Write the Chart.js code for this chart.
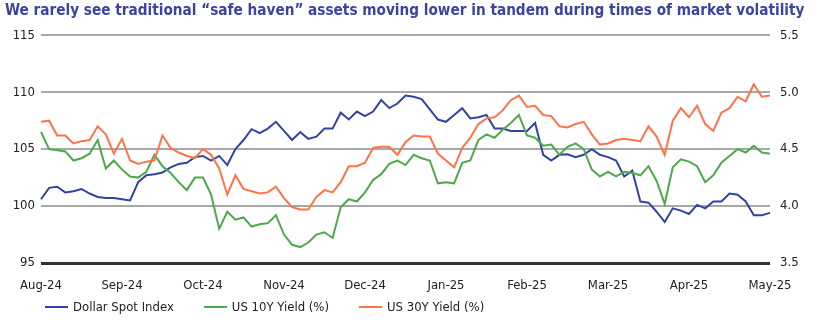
<!DOCTYPE html>
<html>
<head>
<meta charset="utf-8">
<script src="https://cdn.jsdelivr.net/npm/chart.js@4.4.1/dist/chart.umd.min.js"></script>
<style>
  html, body { margin: 0; padding: 0; background: #fff; }
  #wrap { position: relative; width: 830px; height: 321px; }
  canvas { display: block; }
  #legend {
    position: absolute; left: 45px; top: 299px;
    font-family: 'Liberation Sans Narrow', 'DejaVu Sans Condensed', sans-serif;
    font-size: 13px; color: #222; white-space: nowrap;
  }
  #legend .item { display: inline-block; margin-right: 30px; }
  #legend .swatch { display: inline-block; width: 23px; height: 2px; vertical-align: middle; margin-right: 5px; position: relative; top: -1px; }
</style>
</head>
<body>
<div id="wrap">
  <canvas id="chart" width="830" height="321"></canvas>
  <div id="legend"></div>
</div>
<script>
const FONT = "'Liberation Sans Narrow', 'DejaVu Sans Condensed', sans-serif";

const monthLabels = ['Aug-24', 'Sep-24', 'Oct-24', 'Nov-24', 'Dec-24', 'Jan-25', 'Feb-25', 'Mar-25', 'Apr-25', 'May-25'];
const pointsPerMonth = 10;

const seriesNames = ['Dollar Spot Index', 'US 10Y Yield (%)', 'US 30Y Yield (%)'];
const seriesColors = ['#3243a3', '#4caa4a', '#ff7447'];

// left axis
const dollarIndex = [
  100.6, 101.6, 101.7, 101.2, 101.3, 101.5, 101.1, 100.8, 100.7, 100.7,
  100.6, 100.5, 102.1, 102.7, 102.8, 102.95, 103.4, 103.7, 103.8, 104.3,
  104.4, 104.0, 104.4, 103.6, 105.0, 105.8, 106.75, 106.4, 106.8, 107.4,
  106.6, 105.8, 106.5, 105.9, 106.1, 106.8, 106.8, 108.2, 107.6, 108.3,
  107.9, 108.3, 109.3, 108.6, 109.0, 109.7, 109.6, 109.4, 108.5, 107.6,
  107.4, 108.0, 108.6, 107.7, 107.8, 108.0, 106.8, 106.8, 106.6, 106.6,
  106.6, 107.3, 104.5, 104.0, 104.5, 104.55, 104.3, 104.5, 105.0, 104.5,
  104.3, 104.0, 102.6, 103.1, 100.4, 100.3, 99.5, 98.6, 99.8, 99.6,
  99.3, 100.1, 99.8, 100.4, 100.4, 101.1, 101.0, 100.4, 99.2, 99.2,
  99.4
];

// right axis
const us10y = [
  4.65, 4.50, 4.49, 4.48, 4.40, 4.42, 4.46, 4.58, 4.33, 4.40,
  4.32, 4.26, 4.25, 4.30, 4.45, 4.35, 4.29, 4.21, 4.14, 4.25,
  4.25, 4.10, 3.80, 3.95, 3.88, 3.90, 3.82, 3.84, 3.85, 3.92,
  3.75, 3.66, 3.64, 3.68, 3.75, 3.77, 3.72, 3.99, 4.06, 4.04,
  4.12, 4.23, 4.28, 4.37, 4.40, 4.36, 4.45, 4.42, 4.40, 4.20,
  4.21, 4.20, 4.38, 4.40, 4.58, 4.63, 4.60, 4.67, 4.73, 4.80,
  4.62, 4.60, 4.53, 4.54, 4.45, 4.52, 4.55, 4.50, 4.32, 4.26,
  4.30, 4.26, 4.30, 4.29, 4.27, 4.35, 4.22, 4.02, 4.34, 4.41,
  4.39, 4.35, 4.21, 4.27, 4.38, 4.44, 4.50, 4.47, 4.53, 4.47,
  4.46
];

const us30y = [
  4.74, 4.75, 4.62, 4.62, 4.55, 4.57, 4.58, 4.70, 4.63, 4.46,
  4.59, 4.40, 4.37, 4.39, 4.40, 4.62, 4.51, 4.47, 4.44, 4.42,
  4.50, 4.45, 4.33, 4.10, 4.27, 4.15, 4.13, 4.11, 4.12, 4.17,
  4.07, 3.99, 3.97, 3.97, 4.08, 4.14, 4.12, 4.21, 4.35, 4.35,
  4.38, 4.51, 4.52, 4.52, 4.45, 4.56, 4.62, 4.61, 4.61, 4.46,
  4.40, 4.34, 4.51, 4.60, 4.72, 4.77, 4.78, 4.84, 4.93, 4.97,
  4.87, 4.88, 4.80, 4.79, 4.70, 4.69, 4.72, 4.74, 4.63, 4.54,
  4.55, 4.58, 4.59, 4.58, 4.57, 4.70, 4.61, 4.45, 4.75, 4.86,
  4.78, 4.88, 4.72, 4.66, 4.82, 4.86, 4.96, 4.92, 5.07, 4.96,
  4.97
];

// one category per point, month name on every month start
const labels = dollarIndex.map(function(v, i) {
  return i % pointsPerMonth === 0 ? monthLabels[i / pointsPerMonth] : '';
});

function line(label, data, color, axis) {
  return {
    label: label,
    data: data,
    yAxisID: axis,
    borderColor: color,
    backgroundColor: color,
    borderWidth: 2,
    pointRadius: 0,
    tension: 0
  };
}

const ctx = document.getElementById('chart').getContext('2d');
new Chart(ctx, {
  type: 'line',
  data: {
    labels: labels,
    datasets: [
      line(seriesNames[2], us30y, seriesColors[2], 'y1'),
      line(seriesNames[1], us10y, seriesColors[1], 'y1'),
      line(seriesNames[0], dollarIndex, seriesColors[0], 'y')
    ]
  },
  options: {
    responsive: false,
    animation: false,
    layout: { padding: { left: 5, right: 0, top: 2, bottom: 23 } },
    plugins: {
      legend: { display: false },
      tooltip: { enabled: false },
      title: {
        display: true,
        align: 'start',
        text: 'We rarely see traditional \u201csafe haven\u201d assets moving lower in tandem during times of market volatility',
        color: '#3a44a3',
        font: { family: FONT, size: 15.2, weight: 'bold' },
        padding: { top: 0, bottom: 15 }
      }
    },
    scales: {
      x: {
        grid: { display: false, drawTicks: false },
        border: { display: false },
        ticks: {
          autoSkip: false,
          maxRotation: 0,
          padding: 15,
          color: '#222',
          font: { family: FONT, size: 13 }
        },
        afterFit: function(s) { s.height = 35; }
      },
      y: {
        position: 'left',
        min: 95, max: 115,
        border: { display: false },
        grid: {
          drawTicks: false,
          color: function(c) { return c.tick.value === 95 ? '#333' : '#a8a8a8'; },
          lineWidth: function(c) { return c.tick.value === 95 ? 3 : 2; }
        },
        ticks: {
          stepSize: 5,
          padding: 6,
          color: '#222',
          font: { family: FONT, size: 13 }
        },
        afterFit: function(s) { s.width = 36; }
      },
      y1: {
        position: 'right',
        min: 3.5, max: 5.5,
        border: { display: false },
        grid: { display: false, drawTicks: false },
        ticks: {
          stepSize: 0.5,
          padding: 10,
          color: '#222',
          font: { family: FONT, size: 13 },
          callback: function(v) { return v.toFixed(1); }
        },
        afterFit: function(s) { s.width = 60; }
      }
    }
  }
});

// legend in the order shown in the reference
const legend = document.getElementById('legend');
seriesNames.forEach(function(name, i) {
  const item = document.createElement('span');
  item.className = 'item';
  const sw = document.createElement('span');
  sw.className = 'swatch';
  sw.style.background = seriesColors[i];
  item.appendChild(sw);
  item.appendChild(document.createTextNode(name));
  legend.appendChild(item);
});
</script>
</body>
</html>
